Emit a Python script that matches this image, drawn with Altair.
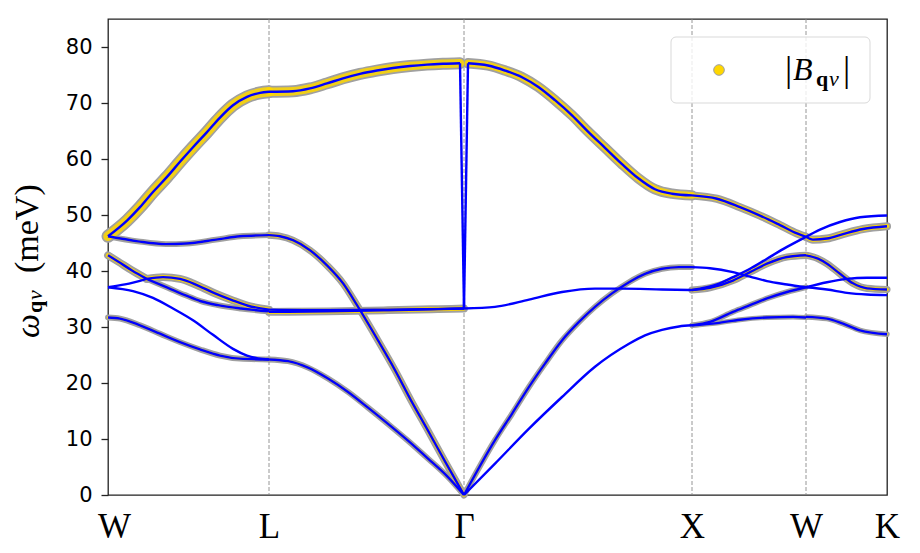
import json
import altair as alt
import pandas as pd

# ---------------- data ----------------
# k-path coordinate (arbitrary path-length units) of the high-symmetry points
K_POS = [0, 161, 356, 584, 698, 779]
K_LABELS = ["W", "L", "Γ", "X", "W", "K"]
Y_TICKS = [0, 10, 20, 30, 40, 50, 60, 70, 80]

# W -> L
WL_LO_X = [0, 19, 32, 45, 59, 72, 85, 99, 112, 125, 139, 152, 161]
WL_LO_Y = [46.2, 49.0, 51.4, 54.1, 56.8, 59.5, 62.1, 64.8, 67.4, 69.6, 71.1, 71.8, 72.0]
WL_FLAT_X = [0, 30, 58, 78, 108, 132, 161]
WL_FLAT_Y = [46.2, 45.3, 44.8, 44.9, 45.6, 46.2, 46.4]
WL_DOWN_A_X = [0, 10, 24, 38.7]
WL_DOWN_A_Y = [42.8, 41.7, 40.1, 38.6]
WL_DOWN_B_X = [38.7, 60, 77, 93, 110, 133, 161]
WL_DOWN_B_Y = [38.6, 37.0, 35.7, 34.6, 33.9, 33.3, 32.8]
WL_HUMP_A_X = [0, 17, 38.7]
WL_HUMP_A_Y = [37.1, 37.6, 38.6]
WL_HUMP_B_X = [38.7, 55, 72, 90, 107, 124, 140, 161]
WL_HUMP_B_Y = [38.6, 38.9, 38.6, 37.4, 36.0, 34.8, 33.8, 33.1]
WL_TA2_X = [0, 25, 45, 65, 85, 105, 125, 139, 150, 161]
WL_TA2_Y = [37.1, 36.4, 35.2, 33.3, 31.2, 28.6, 26.1, 24.9, 24.4, 24.2]
WL_TA1_X = [0, 12, 32, 52, 72, 92, 112, 132, 161]
WL_TA1_Y = [31.7, 31.5, 30.3, 28.8, 27.3, 26.0, 24.9, 24.35, 24.2]

# L -> Gamma
LG_LO_X = [161, 185, 202, 219, 235, 252, 269, 285, 302, 319, 335, 352]
LG_LO_Y = [72.0, 72.1, 72.6, 73.5, 74.4, 75.2, 75.8, 76.25, 76.6, 76.85, 77.0, 77.1]
LG_DROP_X = [352, 356]
LG_DROP_Y = [77.1, 33.3]
LG_LA_X = [161, 172, 185, 202, 219, 235, 249, 270, 287, 303, 320, 337, 356]
LG_LA_Y = [46.4, 46.2, 45.5, 43.7, 41.0, 37.8, 33.9, 27.6, 22.3, 16.9, 11.5, 6.0, 0.0]
LG_TO_A_X = [161, 220, 280, 356]
LG_TO_A_Y = [33.1, 33.0, 33.1, 33.3]
LG_TO_B_X = [161, 220, 280, 330, 356]
LG_TO_B_Y = [32.7, 32.8, 33.0, 33.2, 33.3]
LG_TA_X = [161, 180, 200, 220, 240, 260, 280, 300, 320, 340, 356]
LG_TA_Y = [24.2, 23.9, 22.75, 20.8, 18.4, 15.6, 12.7, 9.7, 6.5, 3.2, 0.0]

# Gamma -> X
GX_RISE_X = [356, 360]
GX_RISE_Y = [33.3, 77.1]
GX_LO_X = [360, 380, 397, 414, 430, 447, 464, 480, 497, 514, 530, 547, 564, 584]
GX_LO_Y = [77.1, 76.7, 75.8, 74.6, 72.9, 70.5, 67.8, 64.9, 62.0, 59.1, 56.6, 54.6, 53.8, 53.5]
GX_TO_X = [356, 387, 421, 454, 487, 514, 554, 584]
GX_TO_Y = [33.3, 33.6, 34.9, 36.25, 36.85, 36.85, 36.7, 36.6]
GX_LA_X = [356, 387, 404, 421, 437, 454, 471, 487, 504, 521, 537, 554, 571, 584]
GX_LA_Y = [0.0, 9.8, 14.5, 19.3, 23.45, 27.6, 30.9, 33.6, 36.0, 38.0, 39.5, 40.4, 40.7, 40.7]
GX_TA_X = [356, 387, 421, 454, 487, 521, 537, 554, 571, 584]
GX_TA_Y = [0.0, 5.6, 11.85, 17.5, 22.9, 27.0, 28.5, 29.5, 30.1, 30.3]

# X -> W
XW_LO_X = [584, 609, 632, 652, 672, 689, 698]
XW_LO_Y = [53.5, 52.9, 51.4, 49.9, 48.2, 46.7, 46.1]
XW_TO_A_X = [584, 592, 609, 625, 642, 659, 679, 698]
XW_TO_A_Y = [36.6, 36.85, 37.6, 38.9, 40.4, 42.2, 44.3, 46.1]
XW_TO_B_X = [584, 602, 625, 642, 659, 679, 698]
XW_TO_B_Y = [36.6, 37.0, 38.3, 39.8, 41.3, 42.5, 42.8]
XW_LA_X = [584, 602, 625, 642, 659, 679, 698]
XW_LA_Y = [40.7, 40.5, 39.8, 39.0, 38.2, 37.6, 37.1]
XW_TA_A_X = [584, 602, 625, 642, 659, 679, 698]
XW_TA_A_Y = [30.3, 30.9, 32.7, 33.9, 35.1, 36.25, 37.1]
XW_TA_B_X = [584, 609, 632, 659, 685, 698]
XW_TA_B_Y = [30.3, 30.7, 31.3, 31.7, 31.8, 31.7]

# W -> K
WK_TOP_X = [698, 712, 732, 752, 779]
WK_TOP_Y = [46.1, 47.4, 48.75, 49.6, 49.9]
WK_MID_X = [698, 705, 719, 735, 755, 779]
WK_MID_Y = [46.1, 45.6, 45.8, 46.6, 47.5, 48.0]
WK_PEAK_X = [698, 710, 719, 732, 745, 759, 779]
WK_PEAK_Y = [42.8, 42.2, 41.3, 39.5, 37.8, 36.9, 36.7]
WK_UP_X = [698, 719, 739, 759, 779]
WK_UP_Y = [37.1, 38.0, 38.6, 38.8, 38.8]
WK_DOWN_X = [698, 719, 739, 759, 779]
WK_DOWN_Y = [37.1, 36.7, 36.1, 35.8, 35.7]
WK_BOT_X = [698, 719, 735, 752, 779]
WK_BOT_Y = [31.8, 31.5, 30.6, 29.4, 28.7]

# relative |B_qv| magnitude estimated for each branch piece
B_MAG = {
    "WL_LO": 1.0, "WL_FLAT": 0.45, "WL_DOWN_A": 0.6, "WL_DOWN_B": 0.45,
    "WL_HUMP_A": 0.0, "WL_HUMP_B": 0.6, "WL_TA2": 0.0, "WL_TA1": 0.45,
    "LG_LO": 0.92, "LG_DROP": 0.0, "LG_LA": 0.55, "LG_TO_A": 0.0,
    "LG_TO_B": 0.6, "LG_TA": 0.45,
    "GX_RISE": 0.0, "GX_LO": 0.8, "GX_TO": 0.0, "GX_LA": 0.45, "GX_TA": 0.0,
    "XW_LO": 0.62, "XW_TO_A": 0.0, "XW_TO_B": 0.55, "XW_LA": 0.0,
    "XW_TA_A": 0.42, "XW_TA_B": 0.38,
    "WK_TOP": 0.0, "WK_MID": 0.62, "WK_PEAK": 0.55, "WK_UP": 0.0,
    "WK_DOWN": 0.0, "WK_BOT": 0.42,
}

# ---------------- build table ----------------
g = globals()
rows = []
for name, b in B_MAG.items():
    xs, ys = g[name + "_X"], g[name + "_Y"]
    for i, (x, y) in enumerate(zip(xs, ys)):
        rows.append({"branch": name, "x": x, "y": y, "b": b, "i": i})
df = pd.DataFrame(rows)

HALO_PX = 13  # stroke width for |B| = 1
SERIF = "Liberation Serif, DejaVu Serif, serif"

label_expr = "{}[indexof({}, datum.value)]".format(
    json.dumps(K_LABELS, ensure_ascii=False), json.dumps(K_POS)
)

x_enc = alt.X(
    "x:Q",
    scale=alt.Scale(domain=[K_POS[0], K_POS[-1]], nice=False, zero=False),
    axis=alt.Axis(
        values=K_POS, labelExpr=label_expr, labelFont=SERIF,
        labelFontSize=35, labelColor="black", ticks=False, tickSize=0,
        domain=False, grid=False, title=None, labelPadding=14,
        labelFlush=False, labelOverlap=False,
        labelOffset={"condition": {"test": "datum.value == 0", "value": 6}, "value": 0},
    ),
)
y_enc = alt.Y(
    "y:Q",
    scale=alt.Scale(domain=[0, 85], nice=False, zero=True),
    axis=alt.Axis(
        values=Y_TICKS, labelFont="DejaVu Sans", labelFontSize=21,
        labelColor="black", tickSize=7, tickColor="#222222", tickWidth=1.3,
        domain=False, grid=False, title=None, labelPadding=9,
    ),
)

base = alt.Chart(df).encode(x=x_enc, y=y_enc, detail="branch:N", order="i:Q")

halo = (
    base.transform_filter("datum.b > 0")
    .transform_calculate(hw=f"datum.b * {HALO_PX}")
    .mark_line(color="#a0a0a0", strokeCap="round", strokeJoin="round",
               interpolate="monotone")
    .encode(strokeWidth=alt.StrokeWidth("hw:Q", scale=None, legend=None))
)
gold = (
    base.transform_calculate(gw=f"datum.b * {HALO_PX} - 3.5")
    .transform_filter("datum.gw > 1")
    .mark_line(color="#ffd700", opacity=0.85, strokeCap="round",
               strokeJoin="round", interpolate="monotone")
    .encode(strokeWidth=alt.StrokeWidth("gw:Q", scale=None, legend=None))
)
blue = base.mark_line(color="#0000ff", strokeWidth=2.4, interpolate="monotone")

rules = (
    alt.Chart(pd.DataFrame({"x": K_POS[1:-1]}))
    .mark_rule(color="#8a8a8a", strokeDash=[4, 2], strokeWidth=0.9)
    .encode(x=alt.X("x:Q"))
)

one = alt.Data(values=[{"a": 1}])


def txt(s, x, y, size, style="normal", weight="normal", angle=0):
    return (
        alt.Chart(one)
        .mark_text(text=s, font=SERIF, fontSize=size,
                   fontStyle=style, fontWeight=weight, align="left",
                   baseline="alphabetic", angle=angle, color="black")
        .encode(x=alt.value(x), y=alt.value(y))
    )


# y axis title  ω_{qν} (meV), rotated
ytitle = [
    txt("ω", -69.5, 319, 34, style="italic", angle=270),
    txt("q", -66, 294, 22, weight="bold", angle=270),
    txt("ν", -66, 281, 22, style="italic", angle=270),
    txt("(meV)", -70.5, 254, 34, angle=270),
]

# legend
leg_box = (
    alt.Chart(one)
    .mark_rect(fill="white", fillOpacity=0.8, stroke="#d9d9d9",
               strokeWidth=1, cornerRadius=5)
    .encode(x=alt.value(563), x2=alt.value(762), y=alt.value(18), y2=alt.value(84))
)
leg_dot = (
    alt.Chart(one)
    .mark_point(shape="circle", filled=True, fill="#ffd700", stroke="#a0a0a0",
                strokeWidth=1, size=113, opacity=1)
    .encode(x=alt.value(611), y=alt.value(51))
)
leg_text = [
    txt("|", 677, 62, 36),
    txt("B", 685, 61, 32, style="italic"),
    txt("q", 708, 67, 22, weight="bold"),
    txt("ν", 721, 67, 22, style="italic"),
    txt("|", 735, 62, 36),
]

chart = (
    alt.layer(rules, halo, gold, blue, leg_box, leg_dot, *leg_text, *ytitle)
    .properties(
        width=779, height=476,
        autosize=alt.AutoSizeParams(type="none"),
        padding={"left": 100, "top": 11, "right": 25, "bottom": 50},
    )
    .configure_view(stroke="#222222", strokeWidth=1.3)
)

chart.save("out.html", embed_options={"renderer": "svg", "actions": False})
